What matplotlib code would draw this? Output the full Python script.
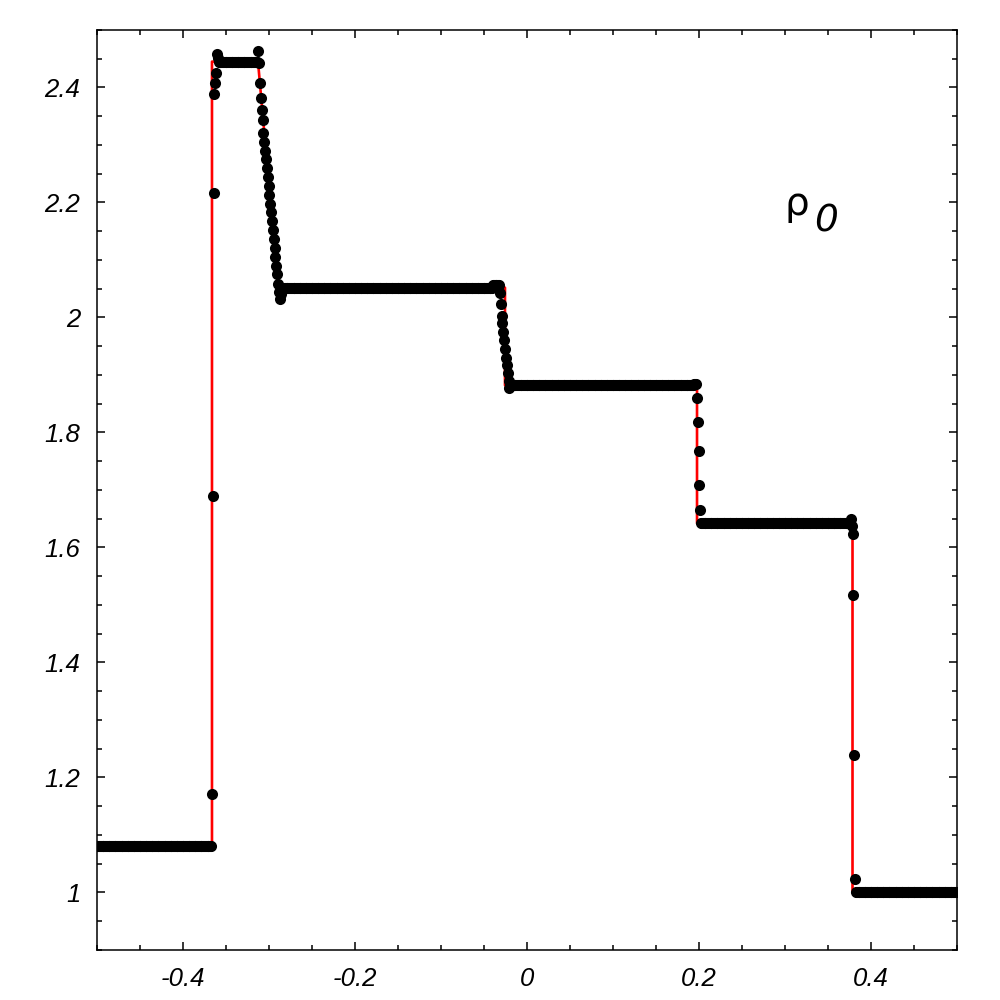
import numpy as np
import matplotlib
matplotlib.use('Agg')
import matplotlib.pyplot as plt
from matplotlib.ticker import MultipleLocator, FuncFormatter

plt.rcParams['axes.unicode_minus'] = False

# numerical solution: cell values on a uniform grid of 1000 cells in [-0.5, 0.5]
# stored as runs (value, number of cells) for plateaus, single cells elsewhere
ncells = 1000
left_state = (1.08, 133)
shock_left = [1.172, 1.69, 2.217, 2.388, 2.407, 2.426, 2.459, 2.452]
top_state = (2.445, 46)
fan_head = [2.464, 2.442, 2.407, 2.381, 2.36, 2.343]
fan = [2.321, 2.306, 2.290, 2.275, 2.260, 2.244, 2.229, 2.213, 2.198, 2.183,
       2.167, 2.152, 2.136, 2.121, 2.106, 2.090, 2.075, 2.059, 2.044, 2.033,
       2.040, 2.048]
mid_state = (2.052, 245)
mid_bump = (2.056, 8)
contact = [2.043, 2.024, 2.003, 1.990, 1.974, 1.960, 1.946, 1.930, 1.917,
           1.904, 1.890, 1.878]
state3 = (1.882, 214)
state3_end = (1.885, 3)
shock_mid = [1.860, 1.818, 1.767, 1.708, 1.665]
state4 = (1.642, 174)
shock_right = [1.650, 1.637, 1.624, 1.517, 1.239, 1.023]
right_state = (1.0, 118)

# exact solution
x_exact = [-0.5, -0.3663, -0.3663, -0.3128, -0.2895, -0.0256, -0.0256,
           0.1977, 0.1977, 0.3785, 0.3785, 0.5]
rho_exact = [1.08, 1.08, 2.445, 2.445, 2.052, 2.052, 1.882, 1.882,
             1.642, 1.642, 1.0, 1.0]


def run(v):
    return [v[0]] * v[1]


rho = (run(left_state) + shock_left + run(top_state) + fan_head + fan
       + run(mid_state) + run(mid_bump) + contact + run(state3)
       + run(state3_end) + shock_mid + run(state4) + shock_right
       + run(right_state))
x = -0.5 + (np.arange(ncells) + 0.5) / ncells

fig = plt.figure(figsize=(10, 10), dpi=100)
ax = fig.add_axes([0.097, 0.05, 0.86, 0.92])

ax.plot(x_exact, rho_exact, color='#ff0000', lw=1.9, zorder=2)
ax.plot(x, rho, 'o', color='black', ms=8, mew=0, zorder=3)

ax.set_xlim(-0.5, 0.5)
ax.set_ylim(0.9, 2.5)
ax.xaxis.set_major_locator(MultipleLocator(0.2))
ax.xaxis.set_minor_locator(MultipleLocator(0.05))
ax.yaxis.set_major_locator(MultipleLocator(0.2))
ax.yaxis.set_minor_locator(MultipleLocator(0.05))
fmt = FuncFormatter(lambda v, p: '%g' % round(v, 6))
ax.xaxis.set_major_formatter(fmt)
ax.yaxis.set_major_formatter(fmt)

ax.tick_params(which='both', direction='in', top=True, right=True, width=1.1)
ax.tick_params(which='major', length=6, pad=12)
ax.tick_params(which='minor', length=3.5)
for lab in ax.get_xticklabels() + ax.get_yticklabels():
    lab.set_fontfamily('Liberation Sans')
    lab.set_fontstyle('italic')
    lab.set_fontsize(18.5)
for s in ax.spines.values():
    s.set_linewidth(1.1)

fig.text(0.785, 0.785, 'ρ', fontsize=28, family='DejaVu Sans', va='baseline')
fig.text(0.814, 0.768, '0', fontsize=27, family='DejaVu Sans',
         style='italic', va='baseline')

fig.savefig('out.png', dpi=100)
